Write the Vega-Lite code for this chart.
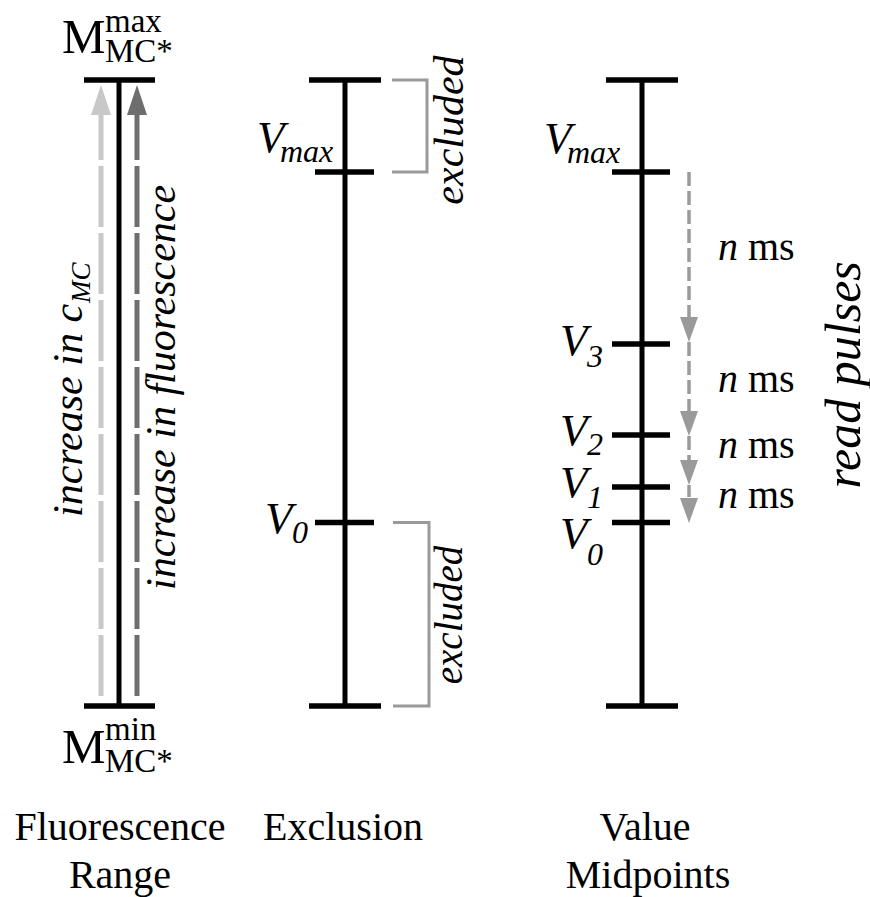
{
  "$schema": "https://vega.github.io/schema/vega-lite/v6.json",
  "width": 870,
  "height": 897,
  "autosize": {"type": "fit", "contains": "padding"},
  "padding": 0,
  "background": "white",
  "config": {"view": {"stroke": null}},
  "datasets": {
    "stems": [
      {"column": "Fluorescence Range", "x": 119, "lo": 0, "hi": 100},
      {"column": "Exclusion", "x": 345, "lo": 0, "hi": 100},
      {"column": "Value Midpoints", "x": 642, "lo": 0, "hi": 100}
    ],
    "ticks": [
      {"name": "M max", "x": 84, "x2": 155, "level": 100},
      {"name": "M min", "x": 84, "x2": 155, "level": 0},
      {"name": "top", "x": 309, "x2": 381, "level": 100},
      {"name": "Vmax", "x": 315, "x2": 374, "level": 85.3},
      {"name": "V0", "x": 315, "x2": 374, "level": 29.3},
      {"name": "bottom", "x": 309, "x2": 381, "level": 0},
      {"name": "top", "x": 606, "x2": 678, "level": 100},
      {"name": "Vmax", "x": 612, "x2": 670, "level": 85.3},
      {"name": "V3", "x": 612, "x2": 670, "level": 57.83},
      {"name": "V2", "x": 612, "x2": 670, "level": 43.29},
      {"name": "V1", "x": 612, "x2": 670, "level": 34.98},
      {"name": "V0", "x": 612, "x2": 670, "level": 29.31},
      {"name": "bottom", "x": 606, "x2": 678, "level": 0}
    ],
    "brackets": [
      {"id": "upper", "o": 1, "x": 392, "level": 100},
      {"id": "upper", "o": 2, "x": 427, "level": 100},
      {"id": "upper", "o": 3, "x": 427, "level": 85.3},
      {"id": "upper", "o": 4, "x": 392, "level": 85.3},
      {"id": "lower", "o": 1, "x": 393, "level": 29.3},
      {"id": "lower", "o": 2, "x": 429, "level": 29.3},
      {"id": "lower", "o": 3, "x": 429, "level": 0},
      {"id": "lower", "o": 4, "x": 393, "level": 0}
    ],
    "rise": [
      {"series": "concentration", "x": 101, "from": 1.6, "to": 94.9, "head": 96.81},
      {"series": "fluorescence", "x": 137, "from": 1.6, "to": 94.9, "head": 96.81}
    ],
    "pulses": [
      {"step": 1, "x": 689, "from": 85.3, "to": 62.14, "head": 60.14},
      {"step": 2, "x": 689, "from": 58.15, "to": 47.12, "head": 45.13},
      {"step": 3, "x": 689, "from": 43.13, "to": 39.3, "head": 37.3},
      {"step": 4, "x": 689, "from": 35.3, "to": 33.39, "head": 31.23}
    ],
    "captions": [
      {"label": "Fluorescence", "x": 120, "level": -21.41},
      {"label": "Range", "x": 120, "level": -29.07},
      {"label": "Exclusion", "x": 343, "level": -21.41},
      {"label": "Value", "x": 645, "level": -21.41},
      {"label": "Midpoints", "x": 648, "level": -29.07}
    ],
    "bigM": [
      {"label": "M", "x": 62, "level": 104.31},
      {"label": "M", "x": 62, "level": -9.11}
    ],
    "mScripts": [
      {"label": "max", "x": 105, "level": 107.67},
      {"label": "MC*", "x": 105, "level": 102.88},
      {"label": "min", "x": 105, "level": -5.43},
      {"label": "MC*", "x": 105, "level": -10.54}
    ],
    "bigV": [
      {"label": "V", "x": 257, "level": 88.5},
      {"label": "V", "x": 265, "level": 27.64},
      {"label": "V", "x": 544, "level": 88.34},
      {"label": "V", "x": 560, "level": 56.07},
      {"label": "V", "x": 560, "level": 41.69},
      {"label": "V", "x": 560, "level": 33.39},
      {"label": "V", "x": 560, "level": 25.24}
    ],
    "vSubs": [
      {"label": "max", "x": 280, "level": 86.9},
      {"label": "0", "x": 292, "level": 26.04},
      {"label": "max", "x": 567, "level": 86.74},
      {"label": "3", "x": 587, "level": 54.15},
      {"label": "2", "x": 587, "level": 40.1},
      {"label": "1", "x": 587, "level": 31.63},
      {"label": "0", "x": 587, "level": 22.52}
    ],
    "nLabels": [
      {"label": "n", "x": 718, "level": 71.25},
      {"label": "n", "x": 718, "level": 50.16},
      {"label": "n", "x": 718, "level": 39.62},
      {"label": "n", "x": 718, "level": 31.63}
    ],
    "msLabels": [
      {"label": "ms", "x": 748, "level": 71.25},
      {"label": "ms", "x": 748, "level": 50.16},
      {"label": "ms", "x": 748, "level": 39.62},
      {"label": "ms", "x": 748, "level": 31.63}
    ],
    "excludedUpper": [
      {"label": "excluded", "x": 463, "level": 92.01}
    ],
    "excludedLower": [
      {"label": "excluded", "x": 462, "level": 14.54}
    ],
    "readPulses": [
      {"label": "read pulses", "x": 860, "level": 52.9}
    ],
    "vertStart": [
      {"label": "increase in c", "x": 82, "level": 30.19},
      {"label": "increase in fluorescence", "x": 175, "level": 18.53}
    ],
    "vertSub": [
      {"label": "MC", "x": 90, "level": 64.38}
    ]
  },
  "layer": [
    {
      "data": {"name": "rise"},
      "mark": {"type": "rule", "strokeWidth": 5, "strokeDash": [61, 6], "strokeCap": "butt"},
      "encoding": {
        "x": {"field": "x", "type": "quantitative", "scale": {"domain": [0, 870], "nice": false, "zero": false}, "axis": null},
        "y": {"field": "from", "type": "quantitative", "scale": {"domain": [-30.51, 112.78], "nice": false, "zero": false}, "axis": null},
        "y2": {"field": "to"},
        "color": {"field": "series", "type": "nominal", "scale": {"domain": ["concentration", "fluorescence"], "range": ["#c8c8c8", "#6e6e6e"]}, "legend": null}
      }
    },
    {
      "data": {"name": "rise"},
      "mark": {"type": "point", "shape": "M0,-1L0.667,1L-0.667,1Z", "size": 900, "filled": true, "opacity": 1, "strokeWidth": 0},
      "encoding": {
        "x": {"field": "x", "type": "quantitative", "axis": null},
        "y": {"field": "head", "type": "quantitative", "axis": null},
        "color": {"field": "series", "type": "nominal", "legend": null}
      }
    },
    {
      "data": {"name": "pulses"},
      "mark": {"type": "rule", "strokeWidth": 3.5, "strokeDash": [14, 5], "color": "#9a9a9a", "strokeCap": "butt"},
      "encoding": {
        "x": {"field": "x", "type": "quantitative", "axis": null},
        "y": {"field": "from", "type": "quantitative", "axis": null},
        "y2": {"field": "to"}
      }
    },
    {
      "data": {"name": "pulses"},
      "mark": {"type": "point", "shape": "M0,1L-0.72,-1L0.72,-1Z", "size": 625, "filled": true, "opacity": 1, "color": "#9a9a9a", "strokeWidth": 0},
      "encoding": {
        "x": {"field": "x", "type": "quantitative", "axis": null},
        "y": {"field": "head", "type": "quantitative", "axis": null}
      }
    },
    {
      "data": {"name": "brackets"},
      "mark": {"type": "line", "strokeWidth": 3, "color": "#9a9a9a", "strokeJoin": "miter", "strokeCap": "butt"},
      "encoding": {
        "x": {"field": "x", "type": "quantitative", "axis": null},
        "y": {"field": "level", "type": "quantitative", "axis": null},
        "detail": {"field": "id"},
        "order": {"field": "o"}
      }
    },
    {
      "data": {"name": "stems"},
      "mark": {"type": "rule", "strokeWidth": 5, "color": "#000000", "strokeCap": "butt"},
      "encoding": {
        "x": {"field": "x", "type": "quantitative", "axis": null},
        "y": {"field": "lo", "type": "quantitative", "axis": null},
        "y2": {"field": "hi"}
      }
    },
    {
      "data": {"name": "ticks"},
      "mark": {"type": "rule", "strokeWidth": 5.5, "color": "#000000", "strokeCap": "butt"},
      "encoding": {
        "x": {"field": "x", "type": "quantitative", "axis": null},
        "x2": {"field": "x2"},
        "y": {"field": "level", "type": "quantitative", "axis": null}
      }
    },
    {
      "data": {"name": "captions"},
      "mark": {"type": "text", "font": "Liberation Serif", "color": "#000000", "fontSize": 40, "align": "center", "baseline": "alphabetic"},
      "encoding": {
        "x": {"field": "x", "type": "quantitative", "axis": null},
        "y": {"field": "level", "type": "quantitative", "axis": null},
        "text": {"field": "label"}
      }
    },
    {
      "data": {"name": "bigM"},
      "mark": {"type": "text", "font": "Liberation Serif", "color": "#000000", "fontSize": 49, "align": "left", "baseline": "alphabetic"},
      "encoding": {
        "x": {"field": "x", "type": "quantitative", "axis": null},
        "y": {"field": "level", "type": "quantitative", "axis": null},
        "text": {"field": "label"}
      }
    },
    {
      "data": {"name": "mScripts"},
      "mark": {"type": "text", "font": "Liberation Serif", "color": "#000000", "fontSize": 33, "align": "left", "baseline": "alphabetic"},
      "encoding": {
        "x": {"field": "x", "type": "quantitative", "axis": null},
        "y": {"field": "level", "type": "quantitative", "axis": null},
        "text": {"field": "label"}
      }
    },
    {
      "data": {"name": "bigV"},
      "mark": {"type": "text", "font": "Liberation Serif", "color": "#000000", "fontSize": 45, "fontStyle": "italic", "align": "left", "baseline": "alphabetic"},
      "encoding": {
        "x": {"field": "x", "type": "quantitative", "axis": null},
        "y": {"field": "level", "type": "quantitative", "axis": null},
        "text": {"field": "label"}
      }
    },
    {
      "data": {"name": "vSubs"},
      "mark": {"type": "text", "font": "Liberation Serif", "color": "#000000", "fontSize": 32, "fontStyle": "italic", "align": "left", "baseline": "alphabetic"},
      "encoding": {
        "x": {"field": "x", "type": "quantitative", "axis": null},
        "y": {"field": "level", "type": "quantitative", "axis": null},
        "text": {"field": "label"}
      }
    },
    {
      "data": {"name": "nLabels"},
      "mark": {"type": "text", "font": "Liberation Serif", "color": "#000000", "fontSize": 40, "fontStyle": "italic", "align": "left", "baseline": "alphabetic"},
      "encoding": {
        "x": {"field": "x", "type": "quantitative", "axis": null},
        "y": {"field": "level", "type": "quantitative", "axis": null},
        "text": {"field": "label"}
      }
    },
    {
      "data": {"name": "msLabels"},
      "mark": {"type": "text", "font": "Liberation Serif", "color": "#000000", "fontSize": 40, "align": "left", "baseline": "alphabetic"},
      "encoding": {
        "x": {"field": "x", "type": "quantitative", "axis": null},
        "y": {"field": "level", "type": "quantitative", "axis": null},
        "text": {"field": "label"}
      }
    },
    {
      "data": {"name": "excludedUpper"},
      "mark": {"type": "text", "font": "Liberation Serif", "color": "#000000", "fontSize": 42, "fontStyle": "italic", "align": "center", "baseline": "alphabetic", "angle": 270},
      "encoding": {
        "x": {"field": "x", "type": "quantitative", "axis": null},
        "y": {"field": "level", "type": "quantitative", "axis": null},
        "text": {"field": "label"}
      }
    },
    {
      "data": {"name": "excludedLower"},
      "mark": {"type": "text", "font": "Liberation Serif", "color": "#000000", "fontSize": 39, "fontStyle": "italic", "align": "center", "baseline": "alphabetic", "angle": 270},
      "encoding": {
        "x": {"field": "x", "type": "quantitative", "axis": null},
        "y": {"field": "level", "type": "quantitative", "axis": null},
        "text": {"field": "label"}
      }
    },
    {
      "data": {"name": "readPulses"},
      "mark": {"type": "text", "font": "Liberation Serif", "color": "#000000", "fontSize": 50, "fontStyle": "italic", "align": "center", "baseline": "alphabetic", "angle": 270},
      "encoding": {
        "x": {"field": "x", "type": "quantitative", "axis": null},
        "y": {"field": "level", "type": "quantitative", "axis": null},
        "text": {"field": "label"}
      }
    },
    {
      "data": {"name": "vertStart"},
      "mark": {"type": "text", "font": "Liberation Serif", "color": "#000000", "fontSize": 42, "fontStyle": "italic", "align": "left", "baseline": "alphabetic", "angle": 270},
      "encoding": {
        "x": {"field": "x", "type": "quantitative", "axis": null},
        "y": {"field": "level", "type": "quantitative", "axis": null},
        "text": {"field": "label"}
      }
    },
    {
      "data": {"name": "vertSub"},
      "mark": {"type": "text", "font": "Liberation Serif", "color": "#000000", "fontSize": 27, "fontStyle": "italic", "align": "left", "baseline": "alphabetic", "angle": 270},
      "encoding": {
        "x": {"field": "x", "type": "quantitative", "axis": null},
        "y": {"field": "level", "type": "quantitative", "axis": null},
        "text": {"field": "label"}
      }
    }
  ]
}
